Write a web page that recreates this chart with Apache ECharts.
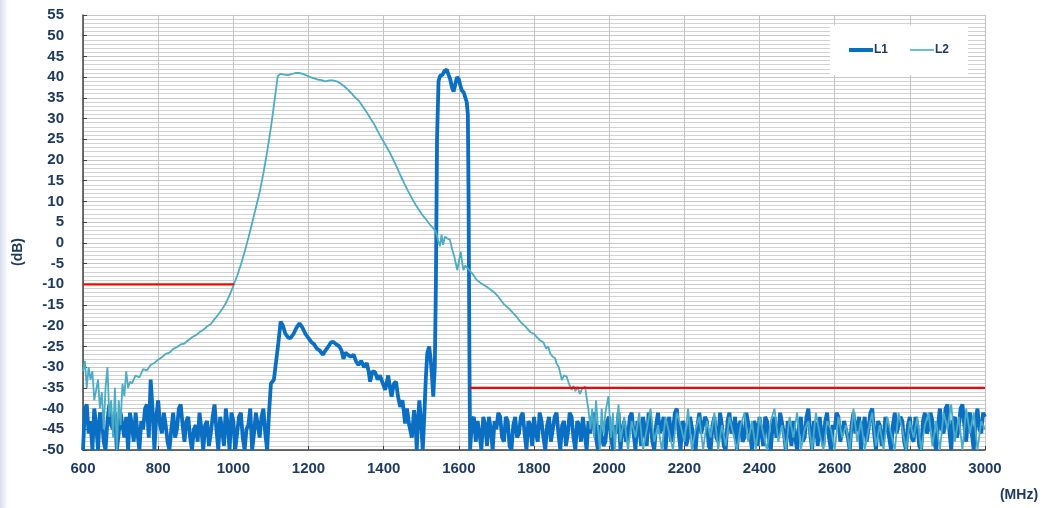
<!DOCTYPE html>
<html>
<head>
<meta charset="utf-8">
<script src="https://cdn.jsdelivr.net/npm/echarts@6/dist/echarts.min.js"></script>
<style>
  html, body { margin: 0; padding: 0; background: #fff; }
  #chart { width: 1047px; height: 508px; }
</style>
</head>
<body>
<div id="chart"></div>
<script>
// Frequency axis ticks (MHz) and level axis ticks (dB)
const freqTicks = [600, 800, 1000, 1200, 1400, 1600, 1800, 2000, 2200, 2400, 2600, 2800, 3000];
const levelTicks = [-50, -45, -40, -35, -30, -25, -20, -15, -10, -5, 0, 5, 10, 15, 20, 25, 30, 35, 40, 45, 50, 55];

// L1 response: [MHz, dB]
const l1Data = [
  [600,-50],[605,-40],[610,-39],[615,-46],[620,-43],[625,-50],[630,-40],[635,-44],[640,-50],[645,-41],
  [650,-42],[655,-48],[660,-50],[665,-43],[670,-39],[675,-44],[680,-45],[685,-41],[690,-50],[695,-46],
  [700,-41],[705,-44],[710,-47],[715,-42],[720,-50],[725,-41],[730,-44],[735,-48],[740,-41],[745,-46],
  [750,-50],[755,-43],[760,-45],[765,-40],[770,-39],[775,-47],[780,-33],[785,-40],[790,-50],[795,-42],
  [800,-38],[805,-44],[810,-46],[815,-41],[820,-44],[825,-48],[830,-50],[835,-45],[840,-41],[845,-47],
  [850,-45],[855,-40],[860,-39],[865,-44],[870,-48],[875,-43],[880,-42],[885,-47],[890,-50],[895,-45],
  [900,-44],[905,-48],[910,-41],[915,-45],[920,-50],[925,-44],[930,-43],[935,-49],[940,-46],[945,-42],
  [950,-39],[955,-45],[960,-50],[965,-42],[970,-45],[975,-49],[980,-40],[985,-44],[990,-50],[995,-41],
  [1000,-43],[1005,-50],[1010,-46],[1015,-42],[1020,-41],[1025,-47],[1030,-50],[1035,-45],[1040,-44],[1045,-40],
  [1050,-50],[1055,-46],[1060,-41],[1065,-44],[1070,-47],[1075,-42],[1080,-40],[1085,-46],[1090,-50],
  [1095,-41],[1100,-34],[1108,-33],[1112,-30],[1120,-24],[1126,-19],[1132,-20],[1138,-21.8],[1145,-22.8],[1152,-23],
  [1160,-22],[1168,-20.5],[1176,-19.4],[1184,-20.5],[1192,-22],[1200,-23],[1208,-24],[1215,-24.5],[1222,-25.5],[1230,-26],
  [1238,-27],[1245,-26],[1253,-25],[1260,-24],[1266,-23.9],[1274,-24.5],[1282,-25],[1288,-26],[1293,-28],[1298,-26.5],
  [1305,-27],[1312,-27.5],[1320,-27],[1326,-28.5],[1333,-29.5],[1340,-28.5],[1348,-30],[1355,-29],[1360,-31],[1364,-33.5],
  [1370,-31],[1377,-31.2],[1384,-33],[1390,-32],[1398,-34],[1404,-35.5],[1412,-32],[1417,-35],[1421,-37.1],[1427,-34],
  [1433,-33.5],[1438,-37],[1444,-39.6],[1450,-38],[1454,-41],[1457,-43.6],[1462,-40],[1468,-44],[1475,-47],[1481,-40.4],
  [1486,-46],[1488,-50],[1492,-42],[1495,-38],[1500,-44],[1504,-50],[1508,-42],[1512,-33],[1516,-26.7],[1521,-25],
  [1525,-28],[1528,-31.5],[1532,-37.1],[1536,-30],[1539,-10],[1542,25],[1546,39],[1550,40.3],[1556,40.5],[1562,41.5],
  [1568,41.8],[1573,40.5],[1577,39.5],[1582,37.5],[1586,36.5],[1590,38],[1595,40],[1600,39.5],[1604,38],[1608,36.8],
  [1613,36.3],[1617,36],[1621,34],[1624,31],[1626,10],[1628,-25],
  [1630,-50],[1635,-43],[1640,-42],[1645,-48],[1650,-43],[1655,-46],[1660,-50],[1665,-42],[1670,-44],[1675,-49],
  [1680,-42],[1685,-45],[1690,-50],[1695,-43],[1700,-45],[1705,-41],[1710,-42],[1715,-47],[1720,-48],[1725,-42],
  [1730,-43],[1735,-49],[1740,-50],[1745,-44],[1750,-42],[1755,-47],[1760,-46],[1765,-42],[1770,-41],[1775,-46],
  [1780,-50],[1785,-43],[1790,-44],[1795,-49],[1800,-42],[1805,-46],[1810,-48],[1815,-41],[1820,-43],[1825,-47],
  [1830,-50],[1835,-44],[1840,-42],[1845,-48],[1850,-45],[1855,-42],[1860,-41],[1865,-46],[1870,-50],[1875,-44],
  [1880,-43],[1885,-49],[1890,-46],[1895,-41],[1900,-42],[1905,-47],[1910,-50],[1915,-43],[1920,-44],[1925,-48],
  [1930,-42],[1935,-46],[1940,-50],[1945,-43],[1950,-46],[1955,-42],[1960,-41],[1965,-47],[1970,-50],[1975,-44],
  [1980,-44],[1985,-49],[1990,-48],[1995,-43],[2000,-42],[2005,-47],[2010,-50],[2015,-44],[2020,-46],[2025,-41],
  [2030,-50],[2035,-45],[2040,-43],[2045,-48],[2050,-47],[2055,-42],[2060,-41],[2065,-46],[2070,-50],[2075,-43],
  [2080,-44],[2085,-49],[2090,-42],[2095,-45],[2100,-49],[2105,-41],[2110,-43],[2115,-48],[2120,-50],[2125,-44],
  [2130,-41],[2135,-46],[2140,-46],[2145,-42],[2150,-50],[2155,-44],[2160,-42],[2165,-48],[2170,-45],[2175,-41],
  [2180,-40],[2185,-46],[2190,-50],[2195,-43],[2200,-44],[2205,-49],[2210,-47],[2215,-42],[2220,-42],[2225,-47],
  [2230,-50],[2235,-44],[2240,-41],[2245,-46],[2250,-46],[2255,-42],[2260,-43],[2265,-49],[2270,-50],[2275,-44],
  [2280,-42],[2285,-47],[2290,-48],[2295,-41],[2300,-44],[2305,-49],[2310,-50],[2315,-43],[2320,-41],[2325,-46],
  [2330,-45],[2335,-42],[2340,-50],[2345,-44],[2350,-43],[2355,-48],[2360,-47],[2365,-41],[2370,-41],[2375,-46],
  [2380,-50],[2385,-43],[2390,-44],[2395,-49],[2400,-42],[2405,-46],[2410,-49],[2415,-42],[2420,-43],[2425,-48],
  [2430,-50],[2435,-44],[2440,-42],[2445,-47],[2450,-46],[2455,-41],[2460,-41],[2465,-46],[2470,-50],[2475,-43],
  [2480,-45],[2485,-49],[2490,-43],[2495,-47],[2500,-50],[2505,-44],[2510,-42],[2515,-48],[2520,-47],[2525,-42],
  [2530,-40],[2535,-46],[2540,-50],[2545,-43],[2550,-44],[2555,-49],[2560,-42],[2565,-46],[2570,-49],[2575,-43],
  [2580,-41],[2585,-47],[2590,-50],[2595,-44],[2600,-45],[2605,-41],[2610,-42],[2615,-48],[2620,-48],[2625,-43],
  [2630,-43],[2635,-47],[2640,-50],[2645,-44],[2650,-41],[2655,-46],[2660,-46],[2665,-42],[2670,-50],[2675,-45],
  [2680,-42],[2685,-48],[2690,-45],[2695,-41],[2700,-40],[2705,-46],[2710,-50],[2715,-43],[2720,-44],[2725,-49],
  [2730,-47],[2735,-42],[2740,-42],[2745,-47],[2750,-50],[2755,-44],[2760,-41],[2765,-46],[2770,-46],[2775,-42],
  [2780,-43],[2785,-48],[2790,-50],[2795,-44],[2800,-42],[2805,-47],[2810,-48],[2815,-42],[2820,-44],[2825,-49],
  [2830,-50],[2835,-43],[2840,-41],[2845,-46],[2850,-45],[2855,-41],[2860,-43],[2865,-48],[2870,-50],[2875,-44],
  [2880,-40],[2885,-45],[2890,-46],[2895,-40],[2900,-39],[2905,-45],[2910,-50],[2915,-43],[2920,-42],[2925,-47],
  [2930,-45],[2935,-40],[2940,-39],[2945,-44],[2950,-48],[2955,-42],[2960,-41],[2965,-46],[2970,-50],[2975,-43],
  [2980,-40],[2985,-45],[2990,-46],[2995,-41],[3000,-42]
];

// L2 response: [MHz, dB]
const l2Data = [
  [600,-31],[605,-28.5],[610,-35],[615,-30],[620,-33],[625,-31],[630,-38],[640,-33],[645,-40],[650,-36],
  [655,-45],[660,-35],[665,-30],[670,-42],[675,-38],[680,-47],[685,-35],[690,-50],[695,-38],[700,-44],
  [705,-34],[710,-37],[715,-31],[720,-35],[725,-33.5],[730,-34],[740,-32],[750,-32.5],[760,-30.5],[770,-30.8],
  [780,-29.5],[790,-29],[800,-28.2],[810,-27.6],[820,-26.8],[830,-26.5],[840,-25.6],[850,-25.2],[860,-24.5],[870,-24.3],
  [880,-23.5],[890,-22.8],[900,-22.3],[910,-21.6],[920,-21],[930,-20.2],[940,-19.6],[950,-18.4],[960,-17.3],[970,-16],
  [980,-14.6],[990,-12.6],[1000,-10.4],[1010,-8],[1020,-5.3],[1030,-2.2],[1040,1.2],[1050,4.8],[1060,8.5],[1070,12.2],
  [1080,16.8],[1090,22],[1100,27.8],[1110,34.5],[1118,40.2],[1125,40.8],[1135,40.6],[1145,40.5],[1155,40.7],[1165,41],
  [1175,41],[1185,40.8],[1195,40.4],[1205,40],[1215,39.7],[1225,39.4],[1235,39.3],[1245,39],[1255,39.2],[1265,39.2],
  [1275,39],[1285,38.5],[1295,37.8],[1305,37],[1315,36],[1325,35],[1335,34.2],[1345,32.8],[1355,31.5],[1365,30],
  [1375,28.6],[1385,26.8],[1395,25.2],[1405,23.6],[1415,22],[1425,20.2],[1435,18.3],[1445,16.2],[1455,14.3],[1465,12.5],
  [1475,10.8],[1485,9.2],[1495,7.8],[1505,6.5],[1515,5.4],[1525,4.2],[1535,3.2],[1540,2.5],[1545,0.5],[1550,-0.8],
  [1554,2],[1558,-0.5],[1563,1.5],[1570,1],[1576,0.8],[1582,-1.5],[1588,-3.3],[1592,-5],[1596,-6.6],[1600,-4.5],
  [1605,-2.1],[1609,-4.8],[1612,-6.6],[1617,-5.5],[1621,-5.4],[1630,-6.8],[1639,-7.8],[1648,-9],[1660,-9.8],[1674,-10.6],
  [1692,-11.8],[1705,-13],[1720,-14.8],[1735,-16],[1745,-17],[1755,-18],[1765,-19.2],[1775,-20],[1781,-20.6],[1790,-21.5],
  [1800,-22],[1807,-22.7],[1815,-23.5],[1825,-24],[1832,-25.5],[1838,-25],[1843,-26.7],[1850,-27.5],[1856,-27.8],[1860,-29.1],
  [1866,-30],[1870,-31.5],[1874,-33.1],[1880,-32],[1887,-32.3],[1893,-34],[1900,-35.5],[1905,-34.5],[1910,-35.8],[1916,-34.8],
  [1922,-36.5],[1928,-35.2],[1936,-34.7],[1941,-38],[1945,-40.4],[1950,-45],[1955,-40],[1960,-47],[1965,-38],[1970,-44],
  [1975,-50],[1980,-40],[1985,-46],[1990,-41],[1998,-37],[2005,-47],[2010,-41],[2015,-50],[2020,-44],[2025,-39],
  [2030,-48],[2040,-42],[2050,-50],[2060,-43],[2070,-47],[2080,-41],[2090,-50],[2100,-45],[2110,-40],[2120,-48],
  [2130,-44],[2140,-50],[2150,-42],[2160,-46],[2170,-50],[2180,-41],[2190,-44],[2200,-48],[2210,-40],[2220,-50],
  [2230,-45],[2240,-42],[2250,-50],[2260,-43],[2270,-47],[2280,-41],[2290,-50],[2300,-44],[2310,-49],[2320,-42],
  [2330,-46],[2340,-50],[2350,-44],[2360,-41],[2370,-48],[2380,-43],[2390,-50],[2400,-42],[2410,-46],[2420,-50],
  [2430,-43],[2440,-40],[2450,-48],[2460,-44],[2470,-50],[2480,-42],[2490,-47],[2500,-41],[2510,-50],[2520,-45],
  [2530,-43],[2540,-50],[2550,-41],[2560,-46],[2570,-50],[2580,-43],[2590,-45],[2600,-50],[2610,-42],[2620,-47],
  [2630,-44],[2640,-50],[2650,-40],[2660,-48],[2670,-43],[2680,-50],[2690,-45],[2700,-41],[2710,-49],[2720,-44],
  [2730,-50],[2740,-42],[2750,-46],[2760,-50],[2770,-41],[2780,-45],[2790,-50],[2800,-43],[2810,-47],[2820,-42],
  [2830,-50],[2840,-44],[2850,-41],[2860,-49],[2870,-43],[2880,-50],[2890,-41],[2900,-45],[2910,-39],[2920,-48],
  [2930,-42],[2940,-50],[2950,-40],[2960,-46],[2970,-41],[2980,-50],[2990,-43],[3000,-45]
];

// Limit lines (red): [MHz, dB]
const limitLow = [[600, -10], [1002, -10]];
const limitHigh = [[1630, -35], [3000, -35]];

const textColor = '#1f3a60';
const fontFamily = '"Liberation Sans", Arial, sans-serif';
const l1Color = '#0a6fc2';
const l2Color = '#4bacc6';

const chart = echarts.init(document.getElementById('chart'), null, { renderer: 'canvas' });

chart.setOption({
  animation: false,
  backgroundColor: '#ffffff',
  grid: { left: 83, right: 62, top: 15, bottom: 58, containLabel: false },
  legend: {
    data: [
      { name: 'L1', icon: 'path://M0,0H24V4H0Z', itemStyle: { color: l1Color } },
      { name: 'L2', icon: 'path://M0,0H24V1.6H0Z', itemStyle: { color: l2Color } }
    ],
    left: 830,
    top: 25,
    padding: [19, 19, 19, 19],
    itemGap: 22,
    itemWidth: 24,
    itemHeight: 12,
    symbolKeepAspect: true,
    backgroundColor: '#ffffff',
    textStyle: { color: textColor, fontFamily: fontFamily, fontWeight: 'bold', fontSize: 12, padding: [0, 0, 0, -4] }
  },
  xAxis: {
    type: 'value',
    min: freqTicks[0],
    max: freqTicks[freqTicks.length - 1],
    interval: 200,
    axisLine: { show: true, onZero: false, lineStyle: { color: '#404040', width: 1.5 } },
    axisTick: { show: true, inside: true, length: 4, lineStyle: { color: '#404040' } },
    axisLabel: {
      color: textColor, fontFamily: fontFamily, fontWeight: 'bold', fontSize: 15, margin: 11,
      formatter: v => freqTicks.includes(v) ? String(v) : ''
    },
    splitLine: { show: true, lineStyle: { color: '#c4c4c4', width: 1 } }
  },
  yAxis: {
    type: 'value',
    min: levelTicks[0],
    max: levelTicks[levelTicks.length - 1],
    interval: 5,
    axisLine: { show: true, onZero: false, lineStyle: { color: '#404040', width: 1.5 } },
    axisTick: { show: true, inside: true, length: 4, lineStyle: { color: '#404040' } },
    axisLabel: {
      color: textColor, fontFamily: fontFamily, fontWeight: 'bold', fontSize: 15, margin: 19,
      formatter: v => levelTicks.includes(v) ? String(v) : ''
    },
    splitLine: { show: true, lineStyle: { color: '#c8c8c8', width: 1 } },
    minorTick: { show: false, splitNumber: 5 },
    minorSplitLine: { show: true, lineStyle: { color: '#d2d2d2', width: 1 } }
  },
  graphic: [
    {
      type: 'rect', left: 0, top: 0, z: -10, silent: true,
      shape: { width: 8, height: 508 },
      style: {
        fill: new echarts.graphic.LinearGradient(0, 0, 1, 0, [
          { offset: 0, color: '#d8dcee' }, { offset: 1, color: '#ffffff' }
        ])
      }
    },
    {
      type: 'text', x: 18, y: 252, rotation: Math.PI / 2, silent: true,
      style: {
        text: '(dB)', fill: textColor, font: 'bold 14px "Liberation Sans", Arial, sans-serif',
        align: 'center', verticalAlign: 'middle'
      }
    },
    {
      type: 'text', x: 1019, y: 495, silent: true,
      style: {
        text: '(MHz)', fill: textColor, font: 'bold 14px "Liberation Sans", Arial, sans-serif',
        align: 'center', verticalAlign: 'middle'
      }
    }
  ],
  series: [
    {
      name: 'L1', type: 'line', data: l1Data, showSymbol: false, symbol: 'none',
      lineStyle: { color: l1Color, width: 3.8 }, itemStyle: { color: l1Color },
      clip: true, z: 2
    },
    {
      name: 'L2', type: 'line', data: l2Data, showSymbol: false, symbol: 'none',
      lineStyle: { color: l2Color, width: 1.8 }, itemStyle: { color: l2Color },
      clip: true, z: 3
    },
    {
      name: 'limitLow', type: 'line', data: limitLow, showSymbol: false, symbol: 'none', silent: true,
      lineStyle: { color: '#ff0000', width: 2.2 }, z: 4
    },
    {
      name: 'limitHigh', type: 'line', data: limitHigh, showSymbol: false, symbol: 'none', silent: true,
      lineStyle: { color: '#ff0000', width: 2.2 }, z: 4
    }
  ]
});
</script>
</body>
</html>
